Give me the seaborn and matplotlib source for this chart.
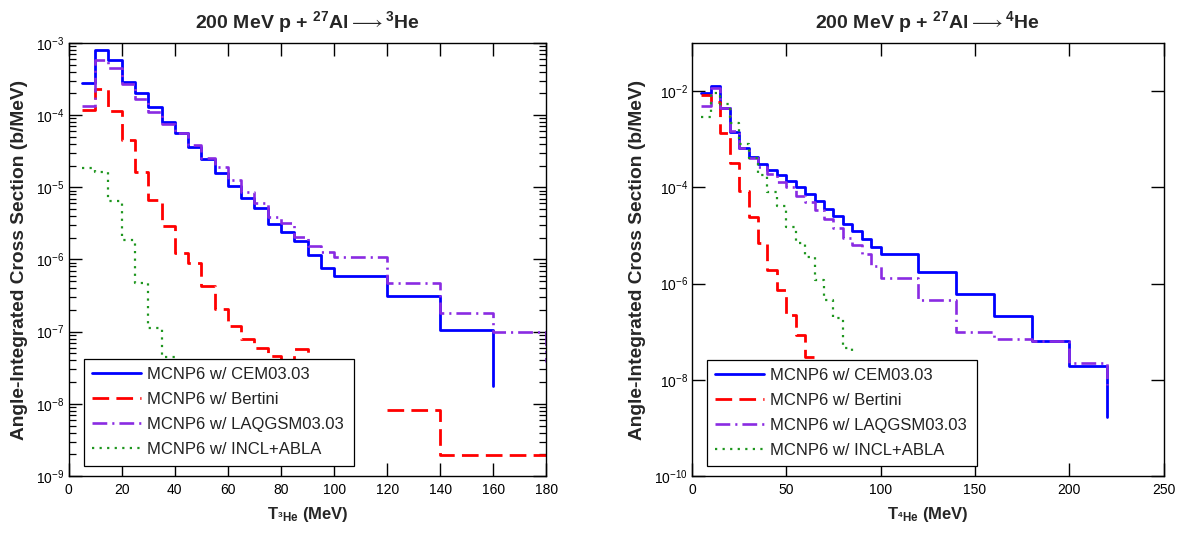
import matplotlib
matplotlib.use("Agg")
import numpy as np
import pandas as pd
import matplotlib.pyplot as plt
from matplotlib import font_manager
from matplotlib.ticker import LogLocator, FixedLocator, NullLocator, LogFormatterMathtext, NullFormatter
import seaborn as sns

sns.set_theme(style="ticks")


def pick_font(*names):
    avail = {f.name for f in font_manager.fontManager.ttflist}
    for n in names:
        if n in avail:
            return n
    return "DejaVu Sans"


SANS = pick_font("Liberation Sans", "Arial", "DejaVu Sans")

plt.rcParams.update({
    "font.family": [SANS, "DejaVu Sans"],
    "mathtext.fontset": "custom",
    "mathtext.rm": SANS,
    "mathtext.it": SANS + ":italic",
    "mathtext.bf": SANS + ":bold",
    "mathtext.sf": "STIXGeneral:bold",
    "mathtext.fallback": "stix",
    "xtick.direction": "in",
    "ytick.direction": "in",
    "xtick.top": True,
    "ytick.right": True,
    "axes.edgecolor": "black",
    "axes.linewidth": 1.0,
    "xtick.color": "black",
    "ytick.color": "black",
})

MODELS = ["MCNP6 w/ CEM03.03", "MCNP6 w/ Bertini",
          "MCNP6 w/ LAQGSM03.03", "MCNP6 w/ INCL+ABLA"]

# ---- 200 MeV p + 27Al -> 3He : bin lower edges (MeV) and cross sections (b/MeV)
he3_cem_E = [5, 10, 15, 20, 25, 30, 35, 40, 45, 50, 55, 60, 65, 70, 75, 80, 85, 90, 95,
             100, 120, 140, 160]
he3_cem_xs = [2.8e-4, 8.1e-4, 5.75e-4, 2.88e-4, 2.0e-4, 1.30e-4, 8.1e-5, 5.6e-5, 3.65e-5,
              2.44e-5, 1.57e-5, 1.04e-5, 7.1e-6, 5.1e-6, 3.1e-6, 2.44e-6, 1.78e-6, 1.16e-6,
              7.6e-7, 5.85e-7, 3.1e-7, 1.05e-7, 1.77e-8]

he3_bertini_E = [5, 10, 15, 20, 25, 30, 35, 40, 45, 50, 55, 60, 65, 70, 75, 80, 85, 90,
                 120, 140, 180]
he3_bertini_xs = [1.17e-4, 2.34e-4, 1.15e-4, 4.5e-5, 1.65e-5, 6.6e-6, 2.9e-6, 1.23e-6,
                  8.9e-7, 4.25e-7, 2.03e-7, 1.19e-7, 8.0e-8, 6.0e-8, 4.6e-8, 3.5e-8, 5.7e-8,
                  2.0e-8, 8.2e-9, 1.97e-9, 1.97e-9]
he3_bertini_seg = [0] * 18 + [1] * 3

he3_laqgsm_E = [5, 10, 15, 20, 25, 30, 35, 40, 45, 50, 55, 60, 65, 70, 75, 80, 85, 90, 95,
                100, 120, 140, 160, 180]
he3_laqgsm_xs = [1.34e-4, 5.9e-4, 4.5e-4, 2.74e-4, 1.66e-4, 1.11e-4, 7.5e-5, 5.7e-5, 3.9e-5,
                 2.52e-5, 1.9e-5, 1.27e-5, 8.6e-6, 6.0e-6, 3.9e-6, 3.25e-6, 2.08e-6, 1.52e-6,
                 1.27e-6, 1.07e-6, 4.8e-7, 1.82e-7, 1.0e-7, 3.76e-8]

he3_incl_E = [5, 10, 15, 20, 25, 30, 35, 40]
he3_incl_xs = [1.87e-5, 1.65e-5, 6.5e-6, 1.87e-6, 4.7e-7, 1.13e-7, 4.5e-8, 2.0e-8]

# ---- 200 MeV p + 27Al -> 4He
he4_cem_E = [5, 10, 15, 20, 25, 30, 35, 40, 45, 50, 55, 60, 65, 70, 75, 80, 85, 90, 95,
             100, 120, 140, 160, 180, 200, 220]
he4_cem_xs = [9.3e-3, 1.28e-2, 4.5e-3, 1.43e-3, 6.5e-4, 4.2e-4, 3.1e-4, 2.31e-4, 1.84e-4,
              1.34e-4, 1.0e-4, 7.3e-5, 5.1e-5, 3.54e-5, 2.57e-5, 1.77e-5, 1.24e-5, 8.3e-6,
              5.8e-6, 4.2e-6, 1.76e-6, 6.1e-7, 2.09e-7, 6.5e-8, 1.94e-8, 1.7e-9]

he4_bertini_E = [5, 10, 15, 20, 25, 30, 35, 40, 45, 50, 55, 60, 65]
he4_bertini_xs = [8.2e-3, 6.0e-3, 1.33e-3, 3.2e-4, 8.3e-5, 2.37e-5, 6.8e-6, 1.88e-6, 7.2e-7,
                  2.19e-7, 8.6e-8, 3.04e-8, 1.5e-8]

he4_laqgsm_E = [5, 10, 15, 20, 25, 30, 35, 40, 45, 50, 55, 60, 65, 70, 75, 80, 85, 90, 95,
                100, 120, 140, 160, 180, 200, 220]
he4_laqgsm_xs = [4.9e-3, 1.17e-2, 4.5e-3, 1.45e-3, 6.5e-4, 4.1e-4, 2.7e-4, 1.9e-4, 1.27e-4,
                 1.0e-4, 6.7e-5, 4.9e-5, 3.3e-5, 2.2e-5, 1.46e-5, 9.0e-6, 6.4e-6, 4.05e-6,
                 2.3e-6, 1.33e-6, 4.5e-7, 1.0e-7, 7.1e-8, 6.3e-8, 2.2e-8, 7.8e-9]

he4_incl_E = [5, 10, 15, 20, 25, 30, 35, 40, 45, 50, 55, 60, 65, 70, 75, 80, 85]
he4_incl_xs = [2.9e-3, 9.0e-3, 5.5e-3, 2.2e-3, 8.0e-4, 4.0e-4, 1.8e-4, 8.0e-5, 4.0e-5,
               1.5e-5, 7.0e-6, 3.5e-6, 1.2e-6, 4.5e-7, 1.9e-7, 4.5e-8, 3.3e-8]

he3_x_ticks = [0, 20, 40, 60, 80, 100, 120, 140, 160, 180]
he4_x_ticks = [0, 50, 100, 150, 200, 250]

STYLE = {
    MODELS[0]: dict(color="#0000ff", linewidth=2.0, linestyle="-"),
    MODELS[1]: dict(color="#ff0000", linewidth=2.0, linestyle=(0, (6.0, 2.6))),
    MODELS[2]: dict(color="#8a2be2", linewidth=1.9, linestyle=(0, (5.6, 1.9, 0.8, 1.9))),
    MODELS[3]: dict(color="#1e961e", linewidth=1.6, linestyle=(0, (1.0, 2.4))),
}


def build_frame(series):
    parts = []
    for model, E, xs, seg in series:
        parts.append(pd.DataFrame({
            "E": E, "xs": xs, "model": model,
            "seg": seg if seg is not None else [0] * len(E),
        }))
    return pd.concat(parts, ignore_index=True)


he3 = build_frame([
    (MODELS[0], he3_cem_E, he3_cem_xs, None),
    (MODELS[1], he3_bertini_E, he3_bertini_xs, he3_bertini_seg),
    (MODELS[2], he3_laqgsm_E, he3_laqgsm_xs, None),
    (MODELS[3], he3_incl_E, he3_incl_xs, None),
])
he4 = build_frame([
    (MODELS[0], he4_cem_E, he4_cem_xs, None),
    (MODELS[1], he4_bertini_E, he4_bertini_xs, None),
    (MODELS[2], he4_laqgsm_E, he4_laqgsm_xs, None),
    (MODELS[3], he4_incl_E, he4_incl_xs, None),
])

fig = plt.figure(figsize=(11.89, 5.34), dpi=100)
ax1 = fig.add_axes([0.0577, 0.1086, 0.4019, 0.8109])
ax2 = fig.add_axes([0.5820, 0.1086, 0.3966, 0.8109])


def draw(ax, df):
    ax.set_yscale("log")
    handles = []
    for model in MODELS:
        n0 = len(ax.get_lines())
        sns.lineplot(data=df[df["model"] == model], x="E", y="xs", units="seg",
                     estimator=None, sort=False, drawstyle="steps-post",
                     legend=False, ax=ax, **STYLE[model])
        handles.append(ax.get_lines()[n0])
    return handles


def finish(ax, handles, title, xlabel, xlim, xticks, ylim, yticks, minor, ylab_x, leg_box):
    ax.set_xlim(*xlim)
    ax.set_ylim(*ylim)
    ax.xaxis.set_major_locator(FixedLocator(xticks))
    ax.xaxis.set_minor_locator(NullLocator())
    ax.yaxis.set_major_locator(FixedLocator(yticks))
    ax.yaxis.set_major_formatter(LogFormatterMathtext())
    if minor:
        ax.yaxis.set_minor_locator(LogLocator(base=10, subs=np.arange(2, 10)))
    else:
        ax.yaxis.set_minor_locator(NullLocator())
    ax.yaxis.set_minor_formatter(NullFormatter())
    ax.tick_params(which="major", length=9.5, width=1.0, labelsize=10, top=True, right=True)
    ax.tick_params(which="minor", length=5, width=0.9, top=True, right=True)
    ax.tick_params(axis="x", pad=5)
    ax.tick_params(axis="y", pad=3)
    ax.set_title(title, fontsize=14, fontweight="bold", pad=11)
    ax.set_xlabel(xlabel, fontsize=12, fontweight="bold")
    ax.xaxis.set_label_coords(0.5, -0.067)
    ax.set_ylabel("Angle-Integrated Cross Section (b/MeV)", fontsize=13.8, fontweight="bold")
    ax.yaxis.set_label_coords(ylab_x, 0.5)
    leg = ax.legend(handles, MODELS, loc="lower left", bbox_to_anchor=leg_box, mode="expand",
                    fontsize=12, handlelength=2.9, handletextpad=0.4, labelspacing=0.6,
                    borderpad=0.5, borderaxespad=0, frameon=True, fancybox=False,
                    framealpha=1, edgecolor="black")
    leg.get_frame().set_linewidth(0.9)
    for t in leg.get_texts():
        t.set_color("#222222")


ARROW = "$\\mathsf{\\longrightarrow}$"

h1 = draw(ax1, he3)
finish(ax1, h1,
       "200 MeV p + $^{\\mathbf{27}}$Al" + ARROW + "$^{\\mathbf{3}}$He",
       "T$_{{}^{\\mathbf{3}}\\mathbf{He}}$ (MeV)",
       (0, 180), he3_x_ticks, (1e-9, 1e-3), [10.0 ** k for k in range(-9, -2)], True,
       -0.085, (0.032, 0.024, 0.565, 0.25))

h2 = draw(ax2, he4)
finish(ax2, h2,
       "200 MeV p + $^{\\mathbf{27}}$Al" + ARROW + "$^{\\mathbf{4}}$He",
       "T$_{{}^{\\mathbf{4}}\\mathbf{He}}$ (MeV)",
       (0, 250), he4_x_ticks, (1e-10, 1e-1), [10.0 ** k for k in range(-10, -1, 2)], False,
       -0.098, (0.032, 0.022, 0.573, 0.25))

fig.savefig("out.png", dpi=100, facecolor="white")
